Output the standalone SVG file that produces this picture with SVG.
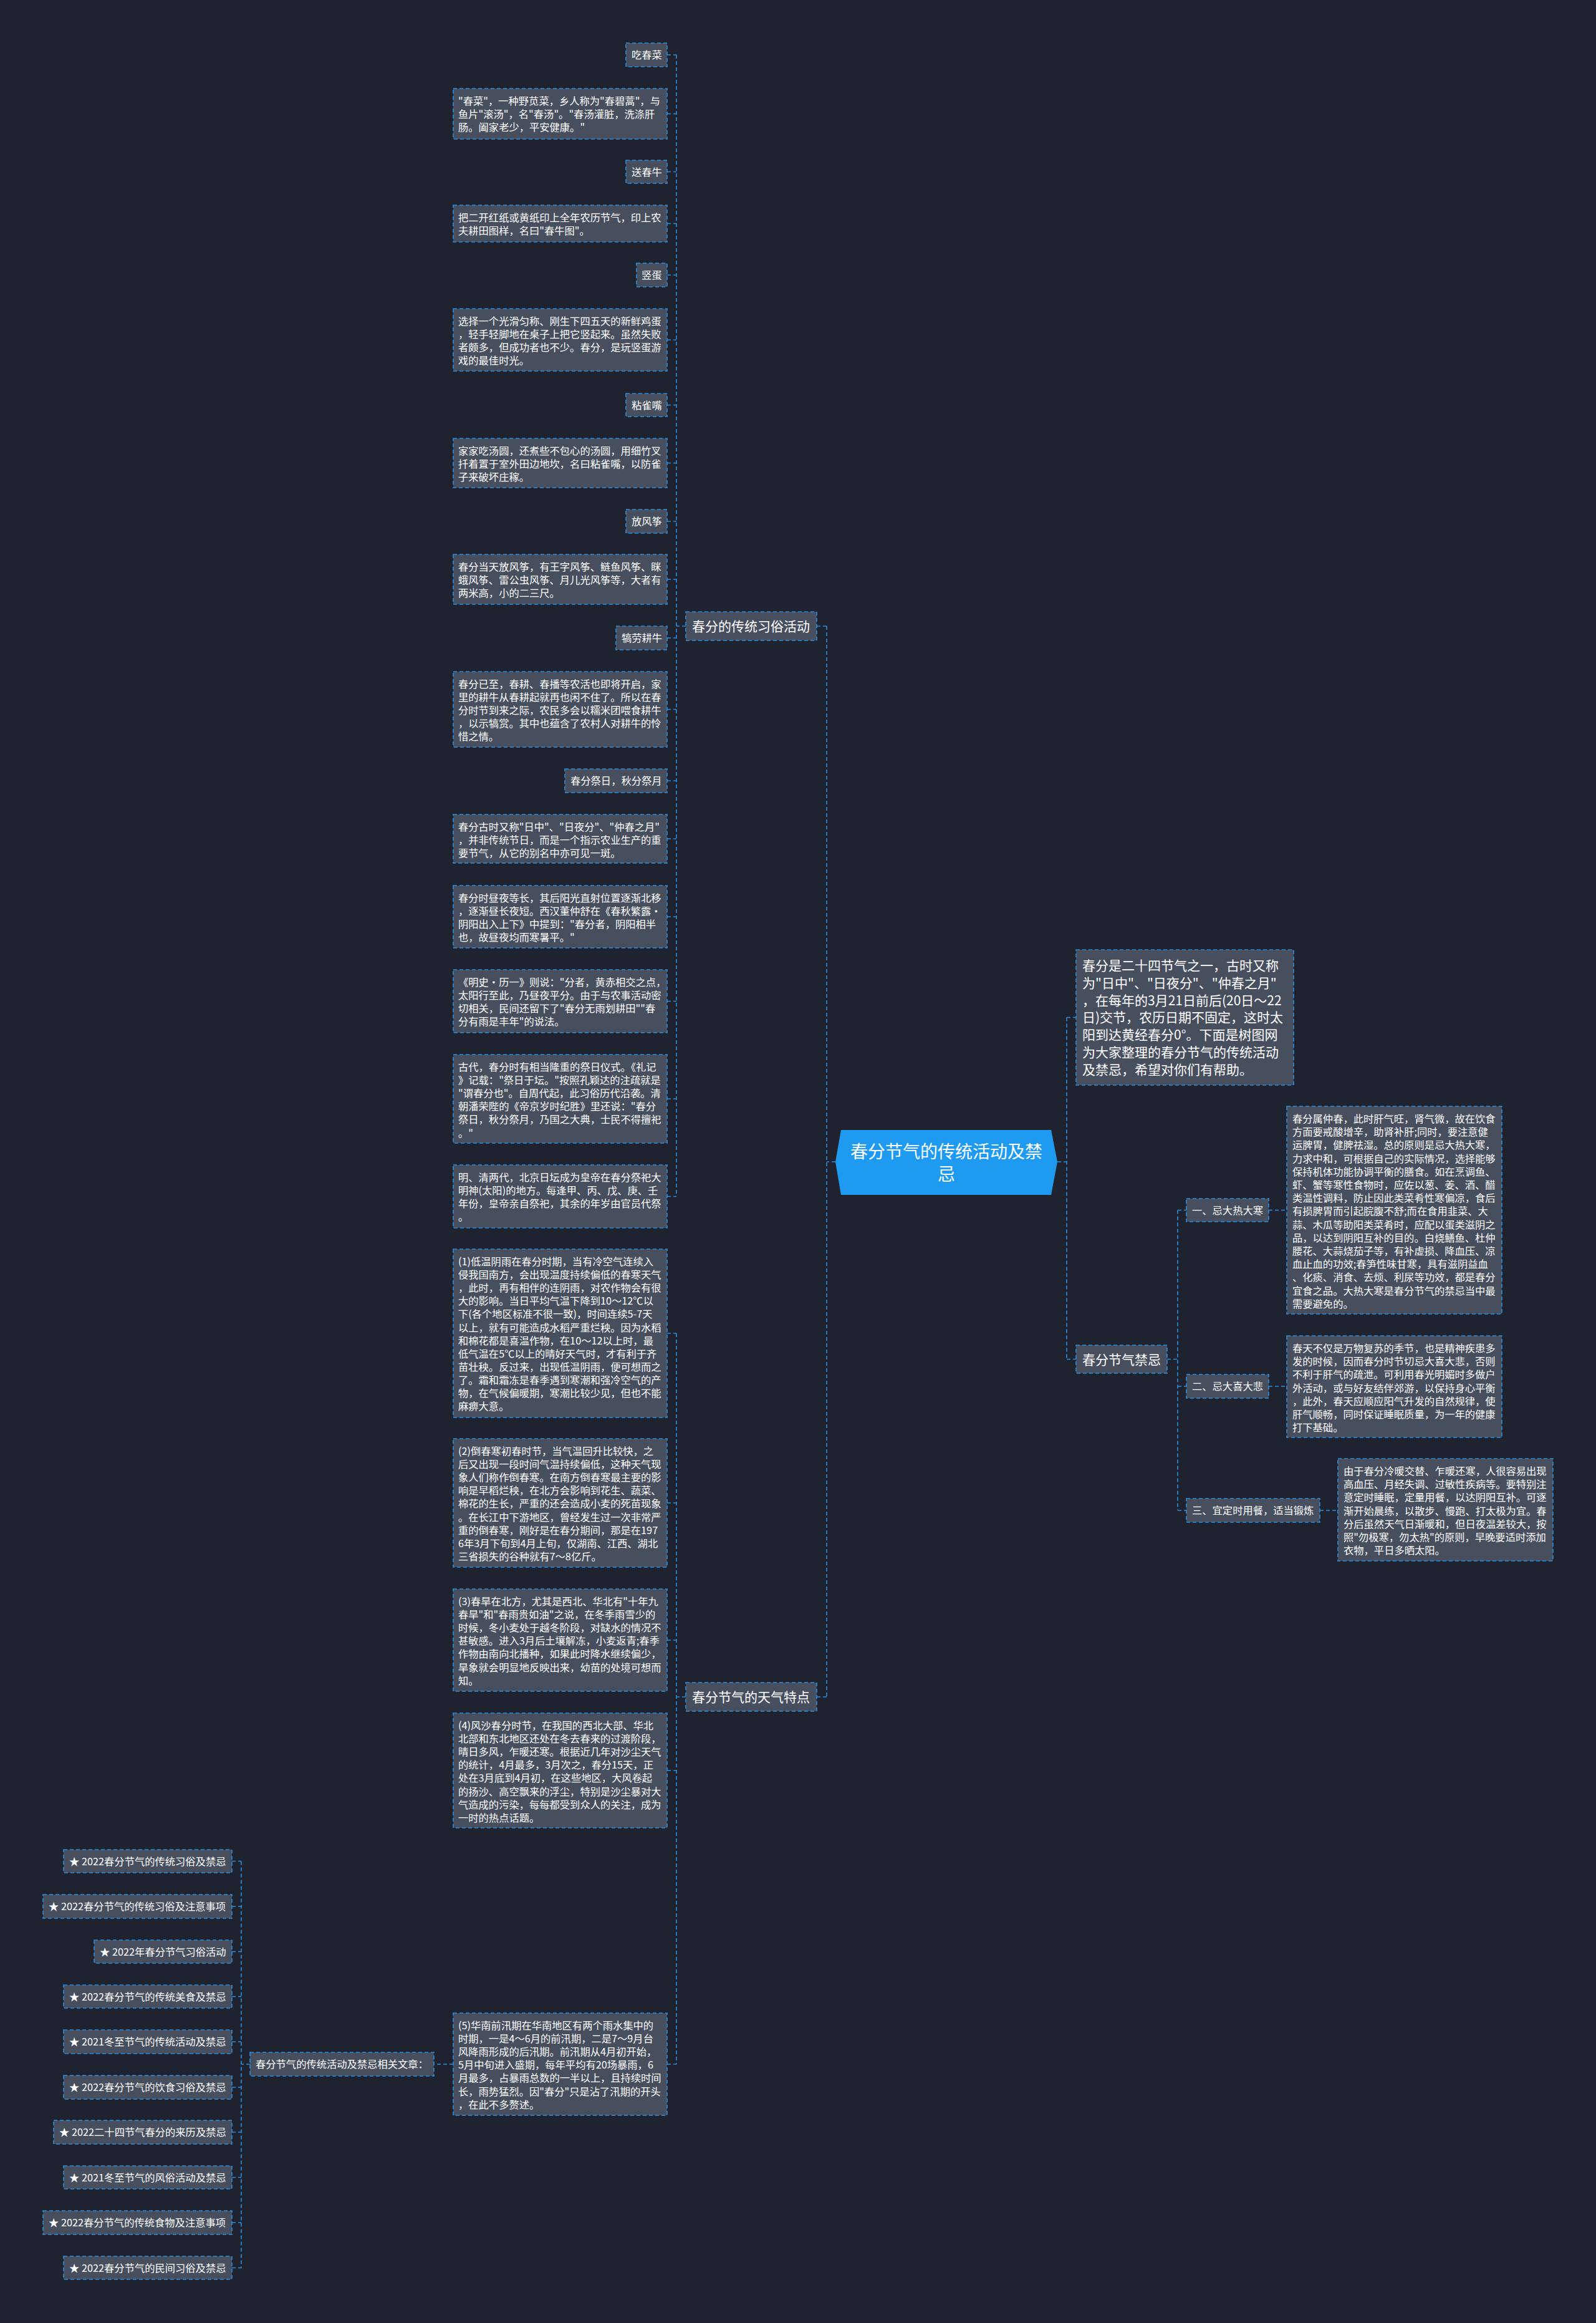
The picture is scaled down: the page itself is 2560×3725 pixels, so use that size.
<svg xmlns="http://www.w3.org/2000/svg" width="2560" height="3725" viewBox="0 0 2560 3725">
<style>
.box{fill:#474e5e;stroke:#2a8fe0;stroke-width:1.6;stroke-dasharray:6 4}
.t{font-family:"Noto Sans CJK SC","Noto Sans",sans-serif;font-size:16.3px;fill:#ffffff}
.tb{font-family:"Noto Sans CJK SC","Noto Sans",sans-serif;font-size:21px;fill:#ffffff}
.tr{font-family:"Noto Sans CJK SC","Noto Sans",sans-serif;font-size:28px;fill:#ffffff}
.c{fill:none;stroke:#2a8fe0;stroke-width:1.6;stroke-dasharray:6 4}
</style>
<rect x="0" y="0" width="2560" height="3725" fill="#1f2330"/>

<g id="connectors">
<path class="c" d="M1340 1863H1326M1326 1004V2721M1326 1004H1310M1326 2721H1310"/>
<path class="c" d="M1696 1863H1711M1711 1631.5V2179.5M1711 1631.5H1726M1711 2179.5H1726"/>
<path class="c" d="M1100 1004H1085M1085 88V1918.5M1070 88H1085M1070 182.5H1085M1070 275.5H1085M1070 358.5H1085M1070 441H1085M1070 545H1085M1070 649.5H1085M1070 742.5H1085M1070 836H1085M1070 929H1085M1070 1023H1085M1070 1137.5H1085M1070 1252H1085M1070 1345H1085M1070 1470H1085M1070 1605.5H1085M1070 1762H1085M1070 1918.5H1085"/>
<path class="c" d="M1100 2721H1085M1085 2138V3310M1070 2138H1085M1070 2410H1085M1070 2630H1085M1070 2839H1085M1070 3310H1085"/>
<path class="c" d="M727 3310H696M401 3310H387M387 2984.5V3636.5M372 2984.5H387M372 3057H387M372 3129.5H387M372 3201.5H387M372 3274H387M372 3347H387M372 3419H387M372 3491.5H387M372 3564H387M372 3636.5H387"/>
<path class="c" d="M1872 2179.5H1889M1889 1940.5V2422M1889 1940.5H1903M1889 2223H1903M1889 2422H1903M2035 1940.5H2064M2035 2223H2064M2117 2422H2146"/>
</g>

<g id="root">
<polygon points="1349,1812 1686,1812 1696,1863 1686,1916 1349,1916 1340,1863" fill="#1e9af0"/>
<text class="tr" text-anchor="middle"><tspan x="1518" y="1857">春分节气的传统活动及禁</tspan><tspan x="1518" y="1893">忌</tspan></text>
</g>

<g id="branch-customs">
<rect class="box" x="1100" y="981" width="210" height="46"/>
<text class="tb" x="1110" y="1012">春分的传统习俗活动</text>
</g>
<g id="branch-weather">
<rect class="box" x="1100" y="2698" width="210" height="46"/>
<text class="tb" x="1110" y="2729">春分节气的天气特点</text>
</g>
<g id="intro">
<rect class="box" x="1726" y="1523" width="349" height="217"/>
<text class="tb"><tspan x="1736" y="1556">春分是二十四节气之一，古时又称</tspan><tspan x="1736" y="1583.8">为"日中"、"日夜分"、"仲春之月"</tspan><tspan x="1736" y="1611.6">，在每年的3月21日前后(20日～22</tspan><tspan x="1736" y="1639.4">日)交节，农历日期不固定，这时太</tspan><tspan x="1736" y="1667.2">阳到达黄经春分0°。下面是树图网</tspan><tspan x="1736" y="1695">为大家整理的春分节气的传统活动</tspan><tspan x="1736" y="1722.8">及禁忌，希望对你们有帮助。</tspan></text>
</g>
<g id="branch-taboo">
<rect class="box" x="1726" y="2157" width="146" height="45"/>
<text class="tb" x="1736" y="2187.5">春分节气禁忌</text>
</g>

<g id="taboo-1">
<rect class="box" x="1903" y="1922" width="132" height="37"/>
<text class="t" x="1912" y="1946.5">一、忌大热大寒</text>
</g>
<g id="taboo-1-text">
<rect class="box" x="2064" y="1774" width="345" height="333"/>
<text class="t"><tspan x="2073" y="1800">春分属仲春，此时肝气旺，肾气微，故在饮食</tspan><tspan x="2073" y="1821.2">方面要戒酸增辛，助肾补肝;同时，要注意健</tspan><tspan x="2073" y="1842.4">运脾胃，健脾祛湿。总的原则是忌大热大寒，</tspan><tspan x="2073" y="1863.6">力求中和，可根据自己的实际情况，选择能够</tspan><tspan x="2073" y="1884.8">保持机体功能协调平衡的膳食。如在烹调鱼、</tspan><tspan x="2073" y="1906">虾、蟹等寒性食物时，应佐以葱、姜、酒、醋</tspan><tspan x="2073" y="1927.2">类温性调料，防止因此类菜肴性寒偏凉，食后</tspan><tspan x="2073" y="1948.4">有损脾胃而引起脘腹不舒;而在食用韭菜、大</tspan><tspan x="2073" y="1969.6">蒜、木瓜等助阳类菜肴时，应配以蛋类滋阴之</tspan><tspan x="2073" y="1990.8">品，以达到阴阳互补的目的。白烧鳝鱼、杜仲</tspan><tspan x="2073" y="2012">腰花、大蒜烧茄子等，有补虚损、降血压、凉</tspan><tspan x="2073" y="2033.2">血止血的功效;春笋性味甘寒，具有滋阴益血</tspan><tspan x="2073" y="2054.4">、化痰、消食、去烦、利尿等功效，都是春分</tspan><tspan x="2073" y="2075.6">宜食之品。大热大寒是春分节气的禁忌当中最</tspan><tspan x="2073" y="2096.8">需要避免的。</tspan></text>
</g>
<g id="taboo-2">
<rect class="box" x="1903" y="2204" width="132" height="38"/>
<text class="t" x="1912" y="2229">二、忌大喜大悲</text>
</g>
<g id="taboo-2-text">
<rect class="box" x="2064" y="2142" width="345" height="163"/>
<text class="t"><tspan x="2073" y="2168">春天不仅是万物复苏的季节，也是精神疾患多</tspan><tspan x="2073" y="2189.2">发的时候，因而春分时节切忌大喜大悲，否则</tspan><tspan x="2073" y="2210.4">不利于肝气的疏泄。可利用春光明媚时多做户</tspan><tspan x="2073" y="2231.6">外活动，或与好友结伴郊游，以保持身心平衡</tspan><tspan x="2073" y="2252.8">，此外，春天应顺应阳气升发的自然规律，使</tspan><tspan x="2073" y="2274">肝气顺畅，同时保证睡眠质量，为一年的健康</tspan><tspan x="2073" y="2295.2">打下基础。</tspan></text>
</g>
<g id="taboo-3">
<rect class="box" x="1903" y="2403" width="214" height="38"/>
<text class="t" x="1912" y="2428">三、宜定时用餐，适当锻炼</text>
</g>
<g id="taboo-3-text">
<rect class="box" x="2146" y="2339" width="345" height="164"/>
<text class="t"><tspan x="2155" y="2365">由于春分冷暖交替、乍暖还寒，人很容易出现</tspan><tspan x="2155" y="2386.2">高血压、月经失调、过敏性疾病等。要特别注</tspan><tspan x="2155" y="2407.4">意定时睡眠，定量用餐，以达阴阳互补。可逐</tspan><tspan x="2155" y="2428.6">渐开始晨练，以散步、慢跑、打太极为宜。春</tspan><tspan x="2155" y="2449.8">分后虽然天气日渐暖和，但日夜温差较大，按</tspan><tspan x="2155" y="2471">照"勿极寒，勿太热"的原则，早晚要适时添加</tspan><tspan x="2155" y="2492.2">衣物，平日多晒太阳。</tspan></text>
</g>

<g id="c1"><rect class="box" x="1004" y="69" width="66" height="38"/><text class="t" x="1013" y="94">吃春菜</text></g>
<g id="c1t"><rect class="box" x="727" y="142" width="343" height="81"/><text class="t"><tspan x="735" y="168">"春菜"，一种野苋菜，乡人称为"春碧蒿"，与</tspan><tspan x="735" y="189.1">鱼片"滚汤"，名"春汤"。"春汤灌脏，洗涤肝</tspan><tspan x="735" y="210.2">肠。阖家老少，平安健康。"</tspan></text></g>
<g id="c2"><rect class="box" x="1004" y="257" width="66" height="37"/><text class="t" x="1013" y="281.5">送春牛</text></g>
<g id="c2t"><rect class="box" x="727" y="329" width="343" height="59"/><text class="t"><tspan x="735" y="355">把二开红纸或黄纸印上全年农历节气，印上农</tspan><tspan x="735" y="376.1">夫耕田图样，名曰"春牛图"。</tspan></text></g>
<g id="c3"><rect class="box" x="1021" y="422" width="49" height="38"/><text class="t" x="1029" y="447">竖蛋</text></g>
<g id="c3t"><rect class="box" x="727" y="495" width="343" height="100"/><text class="t"><tspan x="735" y="521">选择一个光滑匀称、刚生下四五天的新鲜鸡蛋</tspan><tspan x="735" y="542.1">，轻手轻脚地在桌子上把它竖起来。虽然失败</tspan><tspan x="735" y="563.2">者颇多，但成功者也不少。春分，是玩竖蛋游</tspan><tspan x="735" y="584.3">戏的最佳时光。</tspan></text></g>
<g id="c4"><rect class="box" x="1004" y="631" width="66" height="37"/><text class="t" x="1013" y="655.5">粘雀嘴</text></g>
<g id="c4t"><rect class="box" x="727" y="703" width="343" height="79"/><text class="t"><tspan x="735" y="729">家家吃汤圆，还煮些不包心的汤圆，用细竹叉</tspan><tspan x="735" y="750.1">扦着置于室外田边地坎，名曰粘雀嘴，以防雀</tspan><tspan x="735" y="771.2">子来破坏庄稼。</tspan></text></g>
<g id="c5"><rect class="box" x="1004" y="817" width="66" height="38"/><text class="t" x="1013" y="842">放风筝</text></g>
<g id="c5t"><rect class="box" x="727" y="889" width="343" height="80"/><text class="t"><tspan x="735" y="915">春分当天放风筝，有王字风筝、鲢鱼风筝、眯</tspan><tspan x="735" y="936.1">蛾风筝、雷公虫风筝、月儿光风筝等，大者有</tspan><tspan x="735" y="957.2">两米高，小的二三尺。</tspan></text></g>
<g id="c6"><rect class="box" x="988" y="1004" width="82" height="38"/><text class="t" x="997" y="1029">犒劳耕牛</text></g>
<g id="c6t"><rect class="box" x="727" y="1077" width="343" height="121"/><text class="t"><tspan x="735" y="1103">春分已至，春耕、春播等农活也即将开启，家</tspan><tspan x="735" y="1124.1">里的耕牛从春耕起就再也闲不住了。所以在春</tspan><tspan x="735" y="1145.2">分时节到来之际，农民多会以糯米团喂食耕牛</tspan><tspan x="735" y="1166.3">，以示犒赏。其中也蕴含了农村人对耕牛的怜</tspan><tspan x="735" y="1187.4">惜之情。</tspan></text></g>
<g id="c7"><rect class="box" x="906" y="1233" width="164" height="38"/><text class="t" x="915" y="1258">春分祭日，秋分祭月</text></g>
<g id="c7a"><rect class="box" x="727" y="1306" width="343" height="78"/><text class="t"><tspan x="735" y="1332">春分古时又称"日中"、"日夜分"、"仲春之月"</tspan><tspan x="735" y="1353.1">，并非传统节日，而是一个指示农业生产的重</tspan><tspan x="735" y="1374.2">要节气，从它的别名中亦可见一斑。</tspan></text></g>
<g id="c7b"><rect class="box" x="727" y="1420" width="343" height="100"/><text class="t"><tspan x="735" y="1446">春分时昼夜等长，其后阳光直射位置逐渐北移</tspan><tspan x="735" y="1467.1">，逐渐昼长夜短。西汉董仲舒在《春秋繁露·</tspan><tspan x="735" y="1488.2">阴阳出入上下》中提到："春分者，阴阳相半</tspan><tspan x="735" y="1509.3">也，故昼夜均而寒暑平。"</tspan></text></g>
<g id="c7c"><rect class="box" x="727" y="1555" width="343" height="101"/><text class="t"><tspan x="735" y="1581">《明史·历一》则说："分者，黄赤相交之点，</tspan><tspan x="735" y="1602.1">太阳行至此，乃昼夜平分。由于与农事活动密</tspan><tspan x="735" y="1623.2">切相关，民间还留下了"春分无雨划耕田""春</tspan><tspan x="735" y="1644.3">分有雨是丰年"的说法。</tspan></text></g>
<g id="c7d"><rect class="box" x="727" y="1691" width="343" height="142"/><text class="t"><tspan x="735" y="1717">古代，春分时有相当隆重的祭日仪式。《礼记</tspan><tspan x="735" y="1738.1">》记载："祭日于坛。"按照孔颖达的注疏就是</tspan><tspan x="735" y="1759.2">"谓春分也"。自周代起，此习俗历代沿袭。清</tspan><tspan x="735" y="1780.3">朝潘荣陛的《帝京岁时纪胜》里还说："春分</tspan><tspan x="735" y="1801.4">祭日，秋分祭月，乃国之大典，士民不得擅祀</tspan><tspan x="735" y="1822.5">。"</tspan></text></g>
<g id="c7e"><rect class="box" x="727" y="1868" width="343" height="101"/><text class="t"><tspan x="735" y="1894">明、清两代，北京日坛成为皇帝在春分祭祀大</tspan><tspan x="735" y="1915.1">明神(太阳)的地方。每逢甲、丙、戊、庚、壬</tspan><tspan x="735" y="1936.2">年份，皇帝亲自祭祀，其余的年岁由官员代祭</tspan><tspan x="735" y="1957.3">。</tspan></text></g>

<g id="w1"><rect class="box" x="727" y="2003" width="343" height="270"/><text class="t"><tspan x="735" y="2029">(1)低温阴雨在春分时期，当有冷空气连续入</tspan><tspan x="735" y="2050.1">侵我国南方，会出现温度持续偏低的春寒天气</tspan><tspan x="735" y="2071.2">，此时，再有相伴的连阴雨，对农作物会有很</tspan><tspan x="735" y="2092.3">大的影响。当日平均气温下降到10～12℃以</tspan><tspan x="735" y="2113.4">下(各个地区标准不很一致)，时间连续5-7天</tspan><tspan x="735" y="2134.5">以上，就有可能造成水稻严重烂秧。因为水稻</tspan><tspan x="735" y="2155.6">和棉花都是喜温作物，在10～12以上时，最</tspan><tspan x="735" y="2176.7">低气温在5℃以上的晴好天气时，才有利于齐</tspan><tspan x="735" y="2197.8">苗壮秧。反过来，出现低温阴雨，便可想而之</tspan><tspan x="735" y="2218.9">了。霜和霜冻是春季遇到寒潮和强冷空气的产</tspan><tspan x="735" y="2240">物，在气候偏暖期，寒潮比较少见，但也不能</tspan><tspan x="735" y="2261.1">麻痹大意。</tspan></text></g>
<g id="w2"><rect class="box" x="727" y="2307" width="343" height="206"/><text class="t"><tspan x="735" y="2333">(2)倒春寒初春时节，当气温回升比较快，之</tspan><tspan x="735" y="2354.1">后又出现一段时间气温持续偏低，这种天气现</tspan><tspan x="735" y="2375.2">象人们称作倒春寒。在南方倒春寒最主要的影</tspan><tspan x="735" y="2396.3">响是早稻烂秧，在北方会影响到花生、蔬菜、</tspan><tspan x="735" y="2417.4">棉花的生长，严重的还会造成小麦的死苗现象</tspan><tspan x="735" y="2438.5">。在长江中下游地区，曾经发生过一次非常严</tspan><tspan x="735" y="2459.6">重的倒春寒，刚好是在春分期间，那是在197</tspan><tspan x="735" y="2480.7">6年3月下旬到4月上旬，仅湖南、江西、湖北</tspan><tspan x="735" y="2501.8">三省损失的谷种就有7～8亿斤。</tspan></text></g>
<g id="w3"><rect class="box" x="727" y="2548" width="343" height="164"/><text class="t"><tspan x="735" y="2574">(3)春旱在北方，尤其是西北、华北有"十年九</tspan><tspan x="735" y="2595.1">春旱"和"春雨贵如油"之说，在冬季雨雪少的</tspan><tspan x="735" y="2616.2">时候，冬小麦处于越冬阶段，对缺水的情况不</tspan><tspan x="735" y="2637.3">甚敏感。进入3月后土壤解冻，小麦返青;春季</tspan><tspan x="735" y="2658.4">作物由南向北播种，如果此时降水继续偏少，</tspan><tspan x="735" y="2679.5">旱象就会明显地反映出来，幼苗的处境可想而</tspan><tspan x="735" y="2700.6">知。</tspan></text></g>
<g id="w4"><rect class="box" x="727" y="2747" width="343" height="184"/><text class="t"><tspan x="735" y="2773">(4)风沙春分时节，在我国的西北大部、华北</tspan><tspan x="735" y="2794.1">北部和东北地区还处在冬去春来的过渡阶段，</tspan><tspan x="735" y="2815.2">晴日多风，乍暖还寒。根据近几年对沙尘天气</tspan><tspan x="735" y="2836.3">的统计，4月最多，3月次之，春分15天，正</tspan><tspan x="735" y="2857.4">处在3月底到4月初，在这些地区，大风卷起</tspan><tspan x="735" y="2878.5">的扬沙、高空飘来的浮尘，特别是沙尘暴对大</tspan><tspan x="735" y="2899.6">气造成的污染，每每都受到众人的关注，成为</tspan><tspan x="735" y="2920.7">一时的热点话题。</tspan></text></g>
<g id="w5"><rect class="box" x="727" y="3228" width="343" height="164"/><text class="t"><tspan x="735" y="3254">(5)华南前汛期在华南地区有两个雨水集中的</tspan><tspan x="735" y="3275.1">时期，一是4～6月的前汛期，二是7～9月台</tspan><tspan x="735" y="3296.2">风降雨形成的后汛期。前汛期从4月初开始，</tspan><tspan x="735" y="3317.3">5月中旬进入盛期，每年平均有20场暴雨，6</tspan><tspan x="735" y="3338.4">月最多，占暴雨总数的一半以上，且持续时间</tspan><tspan x="735" y="3359.5">长，雨势猛烈。因"春分"只是沾了汛期的开头</tspan><tspan x="735" y="3380.6">，在此不多赘述。</tspan></text></g>

<g id="related"><rect class="box" x="401" y="3291" width="295" height="38"/><text class="t" x="410" y="3316">春分节气的传统活动及禁忌相关文章：</text></g>
<g id="r1"><rect class="box" x="102" y="2966" width="270" height="37"/><text class="t" x="111" y="2990.5">★ 2022春分节气的传统习俗及禁忌</text></g>
<g id="r2"><rect class="box" x="69" y="3038" width="303" height="38"/><text class="t" x="78" y="3063">★ 2022春分节气的传统习俗及注意事项</text></g>
<g id="r3"><rect class="box" x="151" y="3111" width="221" height="37"/><text class="t" x="160" y="3135.5">★ 2022年春分节气习俗活动</text></g>
<g id="r4"><rect class="box" x="102" y="3183" width="270" height="37"/><text class="t" x="111" y="3207.5">★ 2022春分节气的传统美食及禁忌</text></g>
<g id="r5"><rect class="box" x="102" y="3255" width="270" height="38"/><text class="t" x="111" y="3280">★ 2021冬至节气的传统活动及禁忌</text></g>
<g id="r6"><rect class="box" x="102" y="3328" width="270" height="38"/><text class="t" x="111" y="3353">★ 2022春分节气的饮食习俗及禁忌</text></g>
<g id="r7"><rect class="box" x="86" y="3400" width="286" height="38"/><text class="t" x="95" y="3425">★ 2022二十四节气春分的来历及禁忌</text></g>
<g id="r8"><rect class="box" x="102" y="3473" width="270" height="37"/><text class="t" x="111" y="3497.5">★ 2021冬至节气的风俗活动及禁忌</text></g>
<g id="r9"><rect class="box" x="69" y="3545" width="303" height="38"/><text class="t" x="78" y="3570">★ 2022春分节气的传统食物及注意事项</text></g>
<g id="r10"><rect class="box" x="102" y="3618" width="270" height="37"/><text class="t" x="111" y="3642.5">★ 2022春分节气的民间习俗及禁忌</text></g>
</svg>
